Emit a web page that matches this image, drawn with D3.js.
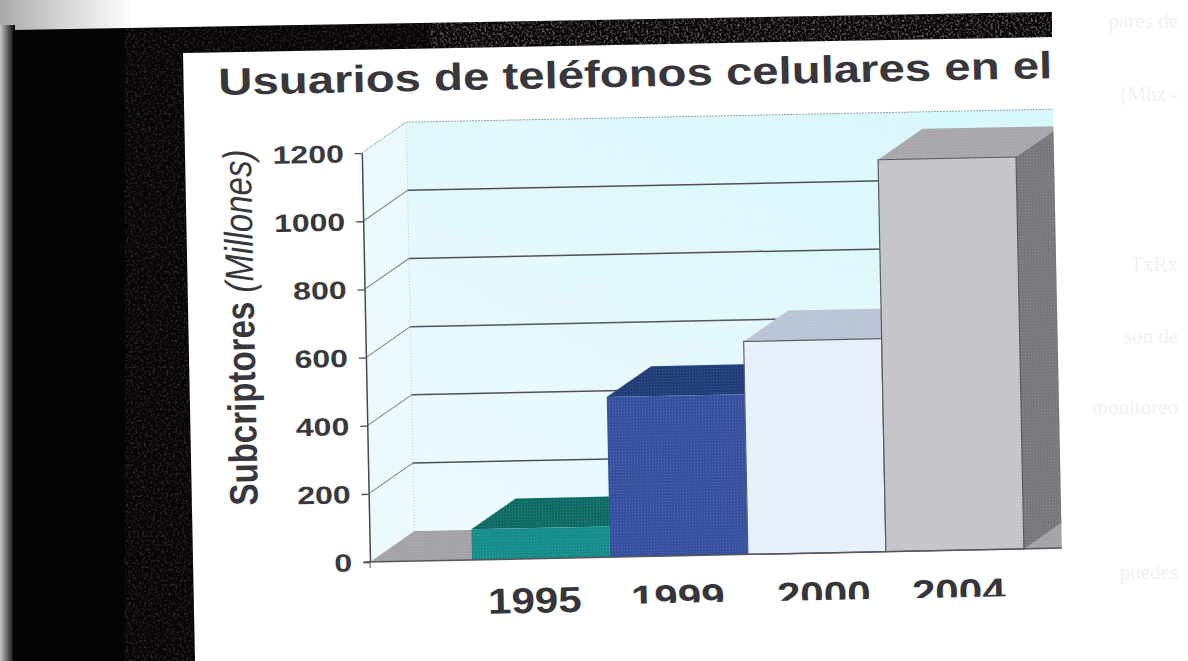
<!DOCTYPE html>
<html>
<head>
<meta charset="utf-8">
<script src="https://cdn.jsdelivr.net/npm/d3@7"></script>
<style>
  html, body { margin: 0; padding: 0; background: #fff; overflow: hidden; }
  svg { display: block; }
  text { font-family: "Liberation Sans", Arial, sans-serif; }
</style>
</head>
<body>
<div id="chart"></div>
<script>
const years = ["1995", "1999", "2000", "2004"];
const subscribers = [90, 470, 625, 1150];
const yTicks = [0, 200, 400, 600, 800, 1000, 1200];
const titleText = "Usuarios de teléfonos celulares en el";
const yTitleBold = "Subcriptores ";
const yTitleItalic = "(Millones)";
const ghostWords = ["pares de", "(Mhz -", "TxRx", "son de", "monitoreo", "puedes"];
const frontColors = ["#148c8a", "#34509f", "#e6f0fb", "#c4c4c9"];
const topColors = ["#0d6a64", "#1f3c78", "#b9c4d6", "#a7a7ab"];

const width = 1188, height = 661;
const depthX = 45, depthY = -30;   // how far the 3d box goes back

const svg = d3.select("#chart").append("svg")
    .attr("width", width)
    .attr("height", height);

const defs = svg.append("defs");

const cornerGrad = defs.append("linearGradient").attr("id", "cornerGrad");
cornerGrad.append("stop").attr("offset", "0%").attr("stop-color", "#a9a9ab");
cornerGrad.append("stop").attr("offset", "45%").attr("stop-color", "#d4d4d6");
cornerGrad.append("stop").attr("offset", "100%").attr("stop-color", "#ffffff");

const edgeGrad = defs.append("linearGradient").attr("id", "edgeGrad");
edgeGrad.append("stop").attr("offset", "0%").attr("stop-color", "#c8c8ca");
edgeGrad.append("stop").attr("offset", "100%").attr("stop-color", "#000000");

const wallGrad = defs.append("linearGradient").attr("id", "wallGrad")
    .attr("x1", 0).attr("y1", 1).attr("x2", 1).attr("y2", 0);
wallGrad.append("stop").attr("offset", "0%").attr("stop-color", "#eefafe");
wallGrad.append("stop").attr("offset", "100%").attr("stop-color", "#d4f7fb");

const grain = defs.append("filter").attr("id", "grain")
    .attr("x", 0).attr("y", 0).attr("width", 1).attr("height", 1);
grain.append("feTurbulence")
    .attr("type", "fractalNoise").attr("baseFrequency", 0.45)
    .attr("numOctaves", 2).attr("seed", 4);
grain.append("feColorMatrix")
    .attr("values", "0 0 0 0 0.42  0 0 0 0 0.38  0 0 0 0 0.39  1.6 0 0 0 -0.72");

const dots = defs.append("pattern").attr("id", "dots")
    .attr("width", 3).attr("height", 3)
    .attr("patternUnits", "userSpaceOnUse");
dots.append("rect").attr("width", 1).attr("height", 1)
    .attr("fill", "#ffffff").attr("opacity", 0.2);

// scanned page background
svg.append("rect").attr("width", 135).attr("height", 30).attr("fill", "url(#cornerGrad)");
svg.append("rect").attr("y", 25).attr("width", 15).attr("height", height - 25).attr("fill", "url(#edgeGrad)");

const bandShape = "M13,30 L1052,12 L1052,37 L183,53 L195,661 L13,661 Z";
svg.append("path").attr("d", bandShape).attr("fill", "#060304");
defs.append("clipPath").attr("id", "bandClip").append("path").attr("d", bandShape);
const bandGrain = svg.append("g").attr("clip-path", "url(#bandClip)");
bandGrain.append("rect")
    .attr("x", 125).attr("y", 0)
    .attr("width", 930).attr("height", height)
    .attr("opacity", 0.45)
    .attr("filter", "url(#grain)");
bandGrain.append("rect")
    .attr("x", 430).attr("y", 0)
    .attr("width", 625).attr("height", 60)
    .attr("opacity", 0.8)
    .attr("filter", "url(#grain)");

// faint print from the other side of the page
svg.append("g").selectAll("text")
    .data(ghostWords)
    .join("text")
    .attr("x", 1178)
    .attr("y", (d, i) => [28, 101, 271, 343, 414, 579][i])
    .attr("text-anchor", "end")
    .attr("font-size", 21)
    .style("font-family", "'Liberation Serif', serif")
    .attr("fill", "#f1f1f5")
    .text(d => d);

// the whole slide sits slightly tilted on the scan
const g = svg.append("g").attr("transform", "rotate(-1.15, 370, 562)");

defs.append("clipPath").attr("id", "plotClip")
  .append("rect").attr("x", 300).attr("y", 100).attr("width", 762).attr("height", 480);

const x = d3.scaleBand().domain(years).range([472, 1024]);
const y = d3.scaleLinear().domain([0, 1200]).range([562, 153]);

const wallLeft = 370, wallRight = 1200;

g.append("text")
    .attr("x", 228)
    .attr("y", 92)
    .attr("font-size", 38)
    .attr("font-weight", "bold")
    .attr("fill", "#38383c")
    .attr("textLength", 834)
    .attr("lengthAdjust", "spacingAndGlyphs")
    .text(titleText);

const plot = g.append("g").attr("clip-path", "url(#plotClip)");

// side wall, back wall, floor
const yTop = y(1200), yBase = y(0);
const wallPaths = [
    { d: `M${wallLeft},${yBase} L${wallLeft},${yTop} L${wallLeft + depthX},${yTop + depthY} L${wallLeft + depthX},${yBase + depthY} Z`, fill: "#ebfafd" },
    { d: `M${wallLeft + depthX},${yTop + depthY} L${wallRight},${yTop + depthY} L${wallRight},${yBase + depthY} L${wallLeft + depthX},${yBase + depthY} Z`, fill: "url(#wallGrad)" },
    { d: `M${wallLeft},${yBase} L${wallLeft + depthX},${yBase + depthY} L${wallRight},${yBase + depthY} L${wallRight},${yBase} Z`, fill: "#a3a3a7" }
];
plot.selectAll(".wall")
    .data(wallPaths)
    .join("path")
    .attr("class", "wall")
    .attr("d", d => d.d)
    .attr("fill", d => d.fill);

plot.append("path")
    .attr("d", `M${wallLeft},${yTop} L${wallLeft + depthX},${yTop + depthY} L${wallRight},${yTop + depthY}`)
    .attr("fill", "none")
    .attr("stroke", "#8aa6aa")
    .attr("stroke-dasharray", "2,1");
plot.append("line")
    .attr("x1", wallLeft + depthX).attr("x2", wallLeft + depthX)
    .attr("y1", yTop + depthY).attr("y2", yBase + depthY)
    .attr("stroke", "#a9c0c4")
    .attr("stroke-dasharray", "1,2");

// gridlines on both walls
const gridTicks = yTicks.filter(t => t > 0 && t < 1200);
plot.selectAll(".gridBack")
    .data(gridTicks)
    .join("line")
    .attr("class", "gridBack")
    .attr("x1", wallLeft + depthX).attr("x2", wallRight)
    .attr("y1", d => y(d) + depthY).attr("y2", d => y(d) + depthY)
    .attr("stroke", "#4a5054")
    .attr("stroke-width", 1.5);
plot.selectAll(".gridSide")
    .data(gridTicks)
    .join("line")
    .attr("class", "gridSide")
    .attr("x1", wallLeft).attr("x2", wallLeft + depthX)
    .attr("y1", d => y(d)).attr("y2", d => y(d) + depthY)
    .attr("stroke", "#6d7f84")
    .attr("stroke-width", 1);

// bars, front face, top face, right side of the last one
const bars = plot.selectAll(".bar")
    .data(years.map((year, i) => ({ year, value: subscribers[i], i })))
    .join("g")
    .attr("class", "bar");

bars.append("path")
    .attr("d", d => {
        const x0 = x(d.year), x1 = x0 + x.bandwidth(), yy = y(d.value);
        return `M${x0},${yy} L${x0 + depthX},${yy + depthY} L${x1 + depthX},${yy + depthY} L${x1},${yy} Z`;
    })
    .attr("fill", d => topColors[d.i]);

bars.filter(d => d.i === years.length - 1).append("path")
    .attr("d", d => {
        const x1 = x(d.year) + x.bandwidth(), yy = y(d.value);
        return `M${x1},${yy} L${x1 + depthX},${yy + depthY} L${x1 + depthX},${yBase + depthY} L${x1},${yBase} Z`;
    })
    .attr("fill", "#77777c");

bars.append("rect")
    .attr("x", d => x(d.year))
    .attr("y", d => y(d.value))
    .attr("width", x.bandwidth())
    .attr("height", d => yBase - y(d.value))
    .attr("fill", d => frontColors[d.i])
    .attr("stroke", d => d.i > 1 ? "#55585c" : "none")
    .attr("stroke-width", 1.2);

// halftone from the printing
plot.append("rect")
    .attr("x", 300).attr("y", 100)
    .attr("width", 900).attr("height", 480)
    .attr("fill", "url(#dots)");

// y axis
const yAxis = g.append("g")
    .attr("transform", `translate(${wallLeft},0)`)
    .call(d3.axisLeft(y).tickValues(yTicks).tickFormat(d3.format("d")).tickSize(7).tickSizeOuter(0));
yAxis.select(".domain").attr("stroke", "#4a4a4e").attr("stroke-width", 1.5);
yAxis.selectAll(".tick line").attr("stroke", "#4a4a4e").attr("stroke-width", 1.3);
yAxis.selectAll(".tick text")
    .attr("x", 0)
    .attr("dy", "0.34em")
    .attr("transform", "translate(-18,0) scale(1.28,1)")
    .attr("font-size", 25)
    .attr("font-weight", "bold")
    .style("font-family", "'Liberation Sans', Arial, sans-serif")
    .attr("fill", "#3a3a3e");

// baseline
g.append("line")
    .attr("x1", wallLeft - 6).attr("x2", 1062)
    .attr("y1", yBase).attr("y2", yBase)
    .attr("stroke", "#55555a")
    .attr("stroke-width", 1.5);
g.append("line")
    .attr("x1", wallLeft).attr("x2", wallLeft)
    .attr("y1", yBase).attr("y2", yBase + 6)
    .attr("stroke", "#55555a");

// y axis title
const yTitle = g.append("text")
    .attr("transform", "translate(259,503) scale(1.42,1) rotate(-90)")
    .attr("font-size", 28)
    .attr("fill", "#38383c")
    .attr("textLength", 356)
    .attr("lengthAdjust", "spacingAndGlyphs");
yTitle.append("tspan").attr("font-weight", "bold").text(yTitleBold);
yTitle.append("tspan").attr("font-style", "italic").text(yTitleItalic);

// x labels, the last three are cut by the slide edge in the scan
defs.append("clipPath").attr("id", "labelClip")
  .append("path").attr("d", "M400,560 L1100,560 L1100,609 L620,609 L620,640 L400,640 Z");

g.append("g").attr("clip-path", "url(#labelClip)")
  .selectAll("text")
  .data(years)
  .join("text")
    .attr("transform", (d, i) => `translate(${x(d) + x.bandwidth() / 2 + [-7, -2, 6, 3][i]},616) scale(1.17,1)`)
    .attr("text-anchor", "middle")
    .attr("font-size", 36)
    .attr("font-weight", "bold")
    .attr("fill", "#36363a")
    .text(d => d);
</script>
</body>
</html>
